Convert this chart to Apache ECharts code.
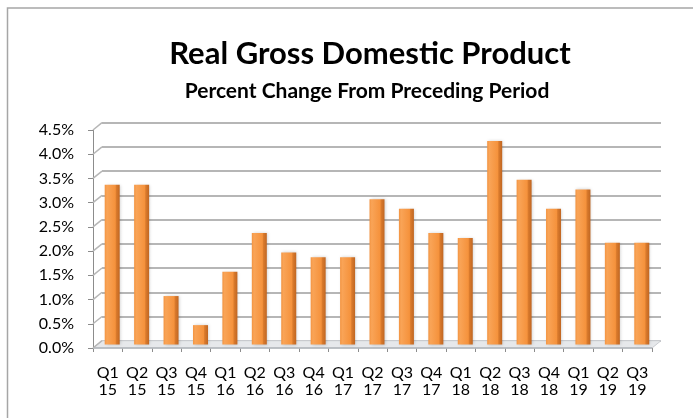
<!DOCTYPE html>
<html>
<head>
<meta charset="utf-8">
<script src="https://cdn.jsdelivr.net/npm/echarts@6/dist/echarts.min.js"></script>
<style>
html,body{margin:0;padding:0;background:#fff;}
#chart{width:693px;height:418px;}
</style>
</head>
<body>
<div id="chart"></div>
<script>
var categories = ['Q1\n15','Q2\n15','Q3\n15','Q4\n15','Q1\n16','Q2\n16','Q3\n16','Q4\n16','Q1\n17','Q2\n17','Q3\n17','Q4\n17','Q1\n18','Q2\n18','Q3\n18','Q4\n18','Q1\n19','Q2\n19','Q3\n19'];
var gdpChange = [3.3, 3.3, 1.0, 0.4, 1.5, 2.3, 1.9, 1.8, 1.8, 3.0, 2.8, 2.3, 2.2, 4.2, 3.4, 2.8, 3.2, 2.1, 2.1];
var yTicks = [0, 0.5, 1.0, 1.5, 2.0, 2.5, 3.0, 3.5, 4.0, 4.5];
var titleText = 'Real Gross Domestic Product';
var subtitleText = 'Percent Change From Preceding Period';

var FONT = 'Lato';
var DX = 9, DY = 7.3; // 3D depth offset of the back wall

var chart = echarts.init(document.getElementById('chart'));

function hiddenCat(gi){
  return {type:'category', gridIndex:gi, data:categories, show:false,
    axisLine:{show:false}, axisTick:{show:false}, axisLabel:{show:false}, splitLine:{show:false}};
}
function hiddenVal(gi, showSplit){
  return {type:'value', gridIndex:gi, min:0, max:4.5, interval:0.5,
    axisLine:{show:false}, axisTick:{show:false}, axisLabel:{show:false},
    splitLine:{show:!!showSplit, lineStyle:{color:'#b6b6b6', width:2}}};
}

var option = {
  animation:false,
  backgroundColor:'#fff',
  title:[
    {text:titleText, left:365, top:33, textAlign:'center',
      textStyle:{fontFamily:FONT, fontWeight:'bold', fontSize:31, color:'#000'}},
    {text:subtitleText, left:362, top:76, textAlign:'center',
      textStyle:{fontFamily:FONT, fontWeight:'bold', fontSize:21, color:'#000'}}
  ],
  graphic:[
    {type:'rect', shape:{x:7.5, y:8, width:800, height:500}, silent:true,
      style:{fill:'none', stroke:'#a6a6a6', lineWidth:1.5}}
  ],
  grid:[
    {left:93, top:130, width:559, height:218},
    {left:93+DX, top:130-DY, width:559, height:218},
    {left:97.5, top:126.5, width:559, height:218}
  ],
  xAxis:[
    {type:'category', gridIndex:0, data:categories,
      axisLine:{show:false},
      axisTick:{show:true, length:4, lineStyle:{color:'#8c8c8c', width:1}},
      axisLabel:{fontFamily:FONT, fontSize:16, color:'#000', margin:16, lineHeight:17, interval:0},
      splitLine:{show:false}},
    hiddenCat(1),
    hiddenCat(2)
  ],
  yAxis:[
    {type:'value', gridIndex:0, min:0, max:4.5, interval:0.5,
      axisLine:{show:true, lineStyle:{color:'#8c8c8c', width:1}},
      axisTick:{show:true, length:5, lineStyle:{color:'#8c8c8c'}},
      axisLabel:{fontFamily:FONT, fontSize:16, color:'#000', margin:19,
        formatter:function(v){return v.toFixed(1)+'%';}},
      splitLine:{show:false}},
    hiddenVal(1, true),
    hiddenVal(2, false)
  ],
  series:[
    {
      type:'custom', xAxisIndex:0, yAxisIndex:0, silent:true, z:1,
      data:yTicks.map(function(v){return [0, v];}),
      renderItem:function(params, api){
        var c = api.coord([0, api.value(1)]);
        var w = api.size([1,0])[0];
        var x0 = c[0] - w/2;
        var y0 = c[1];
        var children = [];
        if (api.value(1) === 0){
          var xr = x0 + w*categories.length;
          children.push({type:'polygon', shape:{points:[[x0,y0],[xr,y0],[xr+DX,y0-DY],[x0+DX,y0-DY]]},
            style:{fill:'#e6e8eb', stroke:'#c9ccd0', lineWidth:1}});
          children.push({type:'line', shape:{x1:x0, y1:y0, x2:xr, y2:y0},
            style:{stroke:'#b0b4ba', lineWidth:1.5}});
        }
        children.push({type:'line', shape:{x1:x0, y1:y0, x2:x0+DX, y2:y0-DY},
          style:{stroke:'#b6b6b6', lineWidth:1.5}});
        return {type:'group', children:children};
      }
    },
    {
      type:'bar', xAxisIndex:2, yAxisIndex:2, data:gdpChange, barWidth:15, z:3,
      itemStyle:{
        color:new echarts.graphic.LinearGradient(0,0,1,0,[
          {offset:0, color:'#f39441'},
          {offset:0.15, color:'#f9a457'},
          {offset:0.7, color:'#f5923c'},
          {offset:0.78, color:'#d97a2c'},
          {offset:1, color:'#c06622'}
        ]),
        shadowColor:'rgba(0,0,0,0.18)', shadowBlur:3, shadowOffsetX:1, shadowOffsetY:0
      }
    }
  ]
};
chart.setOption(option);
</script>
</body>
</html>
